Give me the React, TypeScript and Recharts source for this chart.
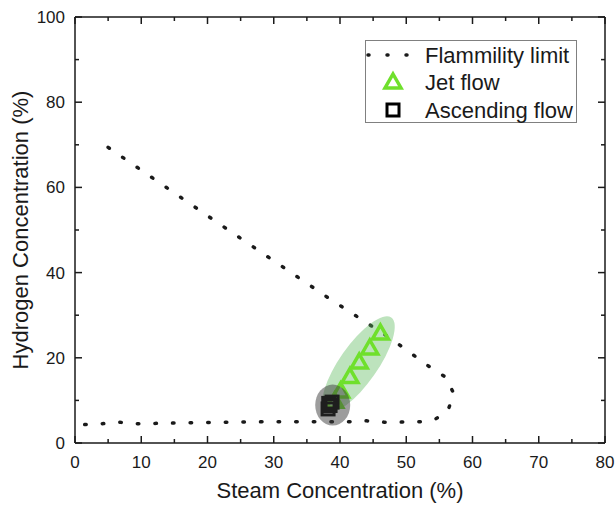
import {
  ComposedChart,
  Line,
  Scatter,
  XAxis,
  YAxis,
  Legend,
  ReferenceLine,
} from "recharts";

const FONT = "'Liberation Sans', Arial, Helvetica, sans-serif";
const INK = "#1a1a1a";
const GREEN = "#6fe02c";

// flammability limit, traced in drawing order
const limitSteam = [5.0, 20.7, 38.3, 47.4, 53.6, 56.0, 57.2, 56.3, 54.4, 52.2, 49.2, 46.6, 44.0, 41.4, 38.5, 30.0, 20.0, 12.0, 9.3, 6.6, 3.9, 1.2];
const limitH2 = [69.4, 52.6, 34.0, 24.8, 17.8, 15.4, 11.5, 7.7, 5.6, 5.0, 4.9, 4.9, 5.2, 5.0, 5.0, 5.0, 4.8, 4.6, 4.5, 4.9, 4.5, 4.3];

const jetSteam = [46.1, 44.5, 42.9, 41.5, 40.1, 39.2];
const jetH2 = [25.8, 22.3, 19.0, 15.6, 12.2, 9.8];

const ascSteam = [38.2, 38.5, 38.8, 38.3];
const ascH2 = [8.0, 8.8, 9.6, 9.3];

// highlighted zones (centres)
const jetZone = [{ x: 42.8, y: 18.5 }];
const ascZone = [{ x: 38.9, y: 8.9 }];

const xTicks = [0, 5, 10, 15, 20, 25, 30, 35, 40, 45, 50, 55, 60, 65, 70, 75, 80];
const yTicks = [0, 10, 20, 30, 40, 50, 60, 70, 80, 90, 100];

const limitData = limitSteam.map((x, i) => ({ x, y: limitH2[i] }));
const jetData = jetSteam.map((x, i) => ({ x, y: jetH2[i] }));
const ascData = ascSteam.map((x, i) => ({ x, y: ascH2[i] }));

const frame = { stroke: INK, strokeWidth: 1.5 };

function BottomTick(props: any) {
  const { x, y, payload } = props;
  if (payload.value % 10 !== 0) return <g />;
  return (
    <text x={x} y={Number(y) + 25} textAnchor="middle" fontSize={17} fill={INK} fontFamily={FONT}>
      {payload.value}
    </text>
  );
}

function LeftTick(props: any) {
  const { x, y, payload } = props;
  if (payload.value % 20 !== 0) return <g />;
  return (
    <text x={Number(x) - 10} y={Number(y) + 6} textAnchor="end" fontSize={17} fill={INK} fontFamily={FONT}>
      {payload.value}
    </text>
  );
}

// inward tick marks on both ends of a reference line
const vTicks = (len: number) => (p: any) => {
  const top = Math.min(p.y1, p.y2);
  const bottom = Math.max(p.y1, p.y2);
  return (
    <g>
      <line x1={p.x1} x2={p.x1} y1={top} y2={top + len} {...frame} />
      <line x1={p.x1} x2={p.x1} y1={bottom} y2={bottom - len} {...frame} />
    </g>
  );
};

const hTicks = (len: number) => (p: any) => {
  const left = Math.min(p.x1, p.x2);
  const right = Math.max(p.x1, p.x2);
  return (
    <g>
      <line x1={left} x2={left + len} y1={p.y1} y2={p.y1} {...frame} />
      <line x1={right} x2={right - len} y1={p.y1} y2={p.y1} {...frame} />
    </g>
  );
};

const Triangle = ({ cx, cy }: any) => (
  <path
    d={`M${cx},${cy - 8} L${cx + 8},${cy + 6} L${cx - 8},${cy + 6} Z`}
    fill="none"
    stroke={GREEN}
    strokeWidth={3.5}
  />
);

const Square = ({ cx, cy }: any) => (
  <rect x={cx - 6} y={cy - 6} width={12} height={12} fill="none" stroke="#000" strokeWidth={3} />
);

const JetZone = ({ cx, cy }: any) => (
  <ellipse cx={cx} cy={cy} rx={57} ry={19} transform={`rotate(-55 ${cx} ${cy})`} fill="rgba(90,185,90,0.4)" />
);

const AscZone = ({ cx, cy }: any) => (
  <ellipse cx={cx} cy={cy} rx={17.5} ry={20.5} fill="rgba(60,60,60,0.5)" />
);

function LegendBox() {
  const txt = { fontSize: 22, fill: INK, fontFamily: FONT };
  return (
    <svg width={213} height={84} style={{ display: "block" }}>
      <rect x={0.5} y={0.5} width={211} height={82} fill="#fff" stroke="#808080" />
      <line x1={3} x2={42} y1={15} y2={15} stroke={INK} strokeWidth={3.5} strokeLinecap="round" strokeDasharray="1 18" />
      <text x={60} y={23} {...txt}>Flammility limit</text>
      <Triangle cx={28} cy={42} />
      <text x={60} y={50} {...txt}>Jet flow</text>
      <Square cx={28} cy={70} />
      <text x={60} y={78} {...txt}>Ascending flow</text>
    </svg>
  );
}

export default function App() {
  return (
    <div style={{ position: "absolute", left: 0, top: 0, width: 615, height: 508, background: "#fff" }}>
      <ComposedChart width={615} height={508} margin={{ top: 17, right: 10, left: 0, bottom: 0 }}>
        <XAxis
          dataKey="x"
          type="number"
          domain={[0, 80]}
          ticks={xTicks}
          interval={0}
          height={65}
          tickSize={0}
          tickMargin={0}
          tickLine={false}
          tick={<BottomTick />}
          axisLine={frame}
          label={{ value: "Steam Concentration (%)", position: "insideBottom", offset: 10, fontSize: 22, fill: INK, fontFamily: FONT }}
        />
        <YAxis
          type="number"
          domain={[0, 100]}
          ticks={yTicks}
          interval={0}
          width={75}
          tickSize={0}
          tickMargin={0}
          tickLine={false}
          tick={<LeftTick />}
          axisLine={frame}
          label={{
            value: "Hydrogen Concentration (%)",
            angle: -90,
            position: "insideLeft",
            offset: 20,
            fontSize: 22,
            fill: INK,
            fontFamily: FONT,
            style: { textAnchor: "middle" },
          }}
        />
        <Legend
          layout="vertical"
          align="center"
          verticalAlign="middle"
          content={() => <LegendBox />}
          wrapperStyle={{ left: 365, top: 40, width: 213, height: 84 }}
        />
        <ReferenceLine x={80} {...frame} ifOverflow="visible" />
        <ReferenceLine y={100} {...frame} ifOverflow="visible" />
        {xTicks.map((v) => (
          <ReferenceLine key={`xt${v}`} x={v} ifOverflow="visible" shape={vTicks(v % 10 === 0 ? 7 : 4)} />
        ))}
        {yTicks.map((v) => (
          <ReferenceLine key={`yt${v}`} y={v} ifOverflow="visible" shape={hTicks(v % 20 === 0 ? 7 : 4)} />
        ))}
        <Line
          data={limitData}
          dataKey="y"
          stroke={INK}
          strokeWidth={3.5}
          strokeLinecap="round"
          strokeDasharray="1.5 16.1"
          dot={false}
          activeDot={false}
          isAnimationActive={false}
        />
        <Scatter data={jetZone} dataKey="y" shape={<JetZone />} isAnimationActive={false} />
        <Scatter data={jetData} dataKey="y" shape={<Triangle />} isAnimationActive={false} />
        <Scatter data={ascData} dataKey="y" shape={<Square />} isAnimationActive={false} />
        <Scatter data={ascZone} dataKey="y" shape={<AscZone />} isAnimationActive={false} />
      </ComposedChart>
    </div>
  );
}
